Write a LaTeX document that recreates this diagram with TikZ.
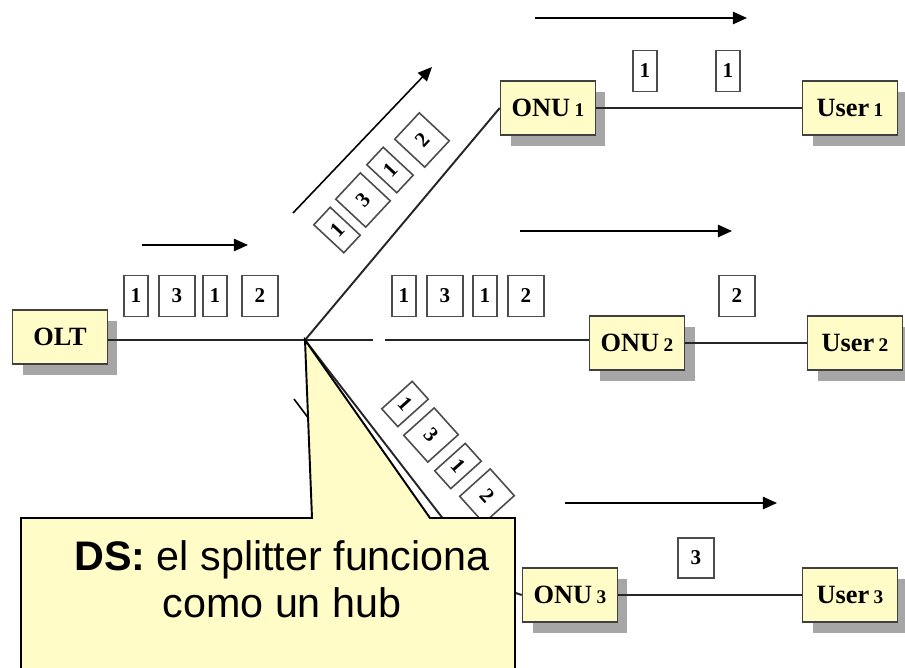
\documentclass[tikz,border=0pt]{standalone}
\usepackage{fontspec}
\setmainfont{Liberation Serif}
\setsansfont{Liberation Sans}
\usetikzlibrary{arrows.meta, positioning, calc, shadows}

\newcommand{\unitNo}[1]{\,{\fontsize{11}{11}\selectfont #1}}

\begin{document}
\begin{tikzpicture}[x=0.02cm, y=0.02cm,
    % ── boxes ──
    unitBox/.style = {draw=black!75, fill=yellow!22, line width=0.9pt,
                      minimum width=1.9cm, minimum height=1.08cm, inner sep=0pt,
                      font=\fontsize{15}{15}\selectfont\bfseries,
                      drop shadow={shadow xshift=0.2cm, shadow yshift=-0.22cm,
                                   fill=gray!70, opacity=1}},
    pkt/.style     = {draw=black!70, fill=white, line width=0.9pt,
                      minimum width=0.48cm, minimum height=0.82cm, inner sep=0pt,
                      font=\fontsize{12}{12}\selectfont\bfseries},
    pktW/.style    = {pkt, minimum width=0.72cm},
    % ── lines and arrows ──
    fiber/.style   = {line width=1.1pt, black!85},
    arr/.style     = {-{Triangle[length=8pt,width=7pt]}, line width=0.9pt},
    % ── callout ──
    noteBox/.style = {draw=black, fill=yellow!22, line width=1.1pt},
    noteText/.style= {font=\sffamily\fontsize{23.5}{26.7}\selectfont, align=center,
                      inner sep=0pt},
]
\useasboundingbox (0,0) rectangle (905,667);

% =====================================================================
% Units: OLT, ONUs and users
% =====================================================================
\node[unitBox] (olt)   at (60,330)  {OLT};
\node[unitBox] (onu1)  at (548,559) {ONU\unitNo{1}};
\node[unitBox] (user1) at (850,559) {User\unitNo{1}};
\node[unitBox] (onu2)  at (637,324) {ONU\unitNo{2}};
\node[unitBox] (user2) at (855,324) {User\unitNo{2}};
\node[unitBox] (onu3)  at (570,72)  {ONU\unitNo{3}};
\node[unitBox] (user3) at (850,72)  {User\unitNo{3}};

\coordinate (split)   at (305,327);
\coordinate (gapL)    at (373,327);
\coordinate (gapR)    at (385,327);
\coordinate (lowBend) at (495,81);

% =====================================================================
% Fibres
% =====================================================================
\draw[fiber] (olt.east |- split) -- (split);
\draw[fiber] (split) -- (onu1.west);
\draw[fiber] (split) -- (gapL);
\draw[fiber] (gapR) -- (split -| onu2.west);
\draw[fiber] (split) -- (lowBend) -- (onu3.west);
\draw[fiber] (onu1) -- (user1);
\draw[fiber] (onu2) -- (user2);
\draw[fiber] (onu3) -- (user3);

% =====================================================================
% Packets
% =====================================================================
\foreach \x/\d/\s [count=\i] in {136/1/pkt, 177/3/pktW, 215/1/pkt, 260/2/pktW}{
  \node[\s] (left\i) at (\x,371) {\d};
}
\foreach \x/\d/\s [count=\i] in {404/1/pkt, 445/3/pktW, 485/1/pkt, 526/2/pktW}{
  \node[\s] (mid\i) at (\x,371) {\d};
}
\foreach \x/\y/\d/\s [count=\i] in {337/437/1/pkt, 363/467/3/pktW,
                                    390/497/1/pkt, 422/527/2/pktW}{
  \node[\s, rotate=47] (up\i) at (\x,\y) {\d};
}
\foreach \x/\y/\d/\s [count=\i] in {405/263/1/pkt, 431/232/3/pktW,
                                    458/201/1/pkt, 487/171/2/pktW}{
  \node[\s, rotate=-48] (low\i) at (\x,\y) {\d};
}
\node[pkt]  (top1) at (645,596) {1};
\node[pkt]  (top2) at (728,596) {1};
\node[pktW] (out2) at (737,371) {2};
\node[pktW, minimum height=0.8cm] (out3) at (696,109) {3};

% =====================================================================
% Direction arrows
% =====================================================================
\coordinate (aL0) at (142,422); \coordinate (aL1) at (248,422);
\coordinate (aU0) at (293,454); \coordinate (aU1) at (432,600);
\coordinate (aD0) at (294,268); \coordinate (aD1) at (400,127);
\coordinate (aM0) at (520,436); \coordinate (aM1) at (732,436);
\coordinate (aT0) at (535,649); \coordinate (aT1) at (747,649);
\coordinate (aB0) at (565,164); \coordinate (aB1) at (777,164);
\draw[arr] (aL0) -- (aL1);
\draw[arr] (aU0) -- (aU1);
\draw[arr] (aD0) -- (aD1);
\draw[arr] (aM0) -- (aM1);
\draw[arr] (aT0) -- (aT1);
\draw[arr] (aB0) -- (aB1);

% =====================================================================
% Callout
% =====================================================================
\draw[noteBox] (21,149) -- (312,149) -- (split) -- (430,149) -- (515,149)
  -- (515,-10) -- (21,-10) -- cycle;
\node[noteText, anchor=north] (note) at (282,127)
  {\textbf{DS:} el splitter funciona\\como un hub};

\end{tikzpicture}
\end{document}
